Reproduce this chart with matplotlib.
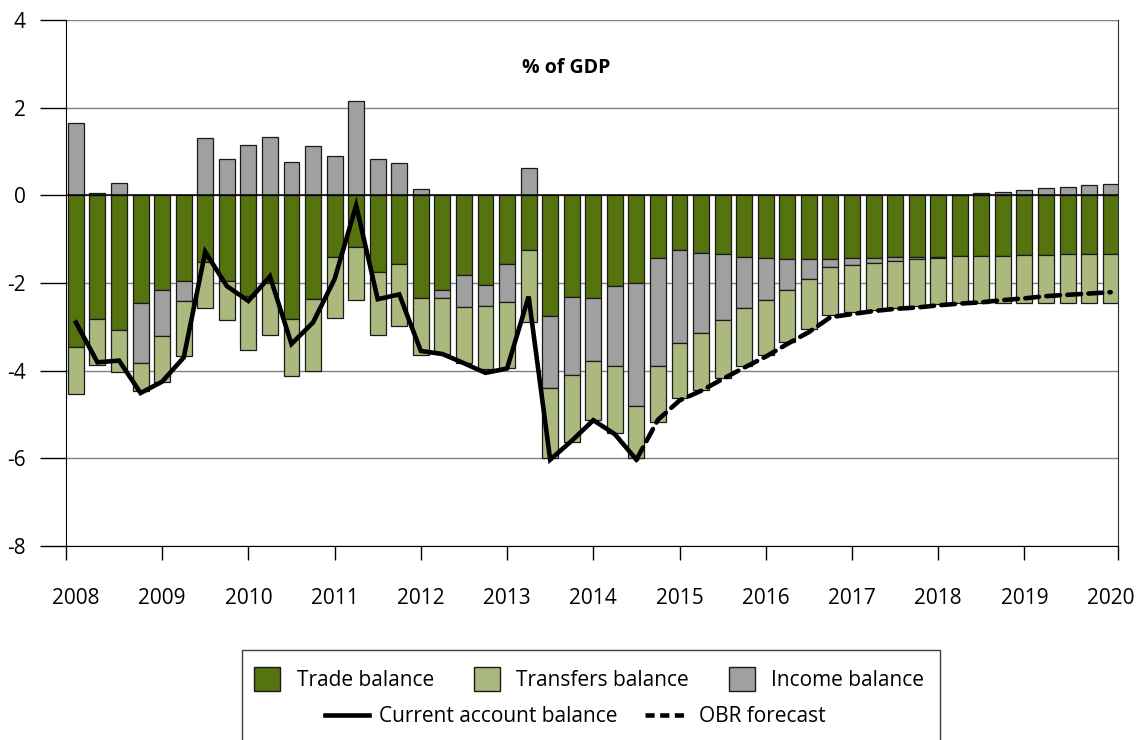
import numpy as np
import matplotlib
matplotlib.use('Agg')
import matplotlib.pyplot as plt
from matplotlib.patches import Patch, Rectangle
from matplotlib.lines import Line2D

plt.rcParams['font.family'] = ['Open Sans', 'DejaVu Sans']
plt.rcParams['axes.unicode_minus'] = False

# quarterly data, 2008Q1 .. 2020Q1 (% of GDP)
quarters = [f'{y}Q{q}' for y in range(2008, 2021) for q in range(1, 5)][:49]
year_labels = [str(y) for y in range(2008, 2021)]

trade = [-3.45, -2.82, -3.07, -2.46, -2.16, -1.95, -1.53, -1.96, -2.29, -2.00,
         -2.82, -2.37, -1.41, -1.19, -1.75, -1.56, -2.35, -2.16, -1.81, -2.04,
         -1.56, -1.25, -2.76, -2.31, -2.35, -2.07, -2.00, -1.42, -1.25, -1.32,
         -1.34, -1.40, -1.44, -1.46, -1.46, -1.46, -1.43, -1.43, -1.40, -1.40,
         -1.40, -1.38, -1.38, -1.38, -1.36, -1.35, -1.34, -1.34, -1.34]
income = [1.64, 0.05, 0.29, -1.37, -1.04, -0.45, 1.30, 0.84, 1.15, 1.34,
          0.77, 1.12, 0.90, 2.16, 0.84, 0.73, 0.14, -0.19, -0.73, -0.48,
          -0.87, 0.62, -1.64, -1.78, -1.44, -1.82, -2.81, -2.47, -2.13, -1.82,
          -1.50, -1.17, -0.94, -0.70, -0.45, -0.18, -0.16, -0.11, -0.10, -0.06,
          -0.02, 0.01, 0.06, 0.08, 0.13, 0.17, 0.20, 0.23, 0.26]
transfers = [-1.08, -1.04, -0.95, -0.64, -1.05, -1.26, -1.04, -0.89, -1.23, -1.19,
             -1.30, -1.63, -1.38, -1.19, -1.43, -1.42, -1.29, -1.27, -1.29, -1.44,
             -1.50, -1.65, -1.60, -1.54, -1.33, -1.54, -1.19, -1.27, -1.25, -1.30,
             -1.32, -1.32, -1.26, -1.18, -1.14, -1.09, -1.07, -1.07, -1.07, -1.06,
             -1.07, -1.07, -1.08, -1.08, -1.10, -1.11, -1.11, -1.11, -1.12]

# current account balance: outturn to 2014Q3, then OBR forecast
cab_actual = [-2.90, -3.81, -3.77, -4.51, -4.25, -3.70, -1.29, -2.07, -2.41, -1.85,
              -3.39, -2.90, -1.91, -0.23, -2.37, -2.26, -3.55, -3.62, -3.83, -4.05,
              -3.95, -2.31, -6.03, -5.60, -5.13, -5.45, -6.03]
obr_forecast = [-6.03, -5.12, -4.68, -4.46, -4.19, -3.93, -3.68, -3.39, -3.12, -2.78,
                -2.71, -2.64, -2.59, -2.56, -2.51, -2.47, -2.44, -2.39, -2.35, -2.30,
                -2.27, -2.24, -2.21]

c_trade = '#55730f'
c_transfers = '#abb87e'
c_income = '#a0a0a0'
edge = '#1a1a1a'

x = np.arange(len(quarters))
trade_a = np.array(trade)
income_a = np.array(income)
transfers_a = np.array(transfers)

# stack negatives downward in the order trade, income, transfers
income_bottom = np.where(income_a < 0, trade_a, 0)
transfers_bottom = trade_a + np.minimum(income_a, 0)

fig = plt.figure(figsize=(11.42, 7.40), dpi=100)
ax = fig.add_axes([66 / 1142, 1 - 546 / 740, (1118 - 66) / 1142, (546 - 20) / 740])

w = 0.74
ax.bar(x, trade_a, w, color=c_trade, edgecolor=edge, linewidth=0.9, zorder=2)
ax.bar(x, income_a, w, bottom=income_bottom, color=c_income, edgecolor=edge, linewidth=0.9, zorder=2)
ax.bar(x, transfers_a, w, bottom=transfers_bottom, color=c_transfers, edgecolor=edge, linewidth=0.9, zorder=2)

ax.plot(x[:len(cab_actual)], cab_actual, color='black', lw=3.3, zorder=4,
        solid_joinstyle='miter')
ax.plot(x[len(x) - len(obr_forecast):], obr_forecast, color='black', lw=3.3, zorder=4,
        dashes=(3.0, 1.6), dash_capstyle='round')

ax.set_ylim(-8, 4)
ax.set_xlim(-0.46, 48.34)
ax.set_yticks([-8, -6, -4, -2, 0, 2, 4])
ax.set_yticklabels(['-8', '-6', '-4', '-2', '0', '2', '4'])
ax.grid(axis='y', color='#808080', lw=1, zorder=0)
ax.axhline(0, color='black', lw=1.1, zorder=3)

# tick marks between years, labels under the first quarter
ax.xaxis.remove_overlapping_locs = False
ax.set_xticks([-0.46] + list(range(4, 48, 4)) + [48.34])
ax.set_xticklabels([])
ax.set_xticks(list(range(0, 49, 4)), minor=True)
ax.set_xticklabels(year_labels, minor=True)
ax.tick_params(axis='x', which='major', length=10, width=1, direction='out')
ax.tick_params(axis='x', which='minor', length=0, pad=30, labelsize=15)
ax.tick_params(axis='y', length=19, width=1, direction='out', pad=10, labelsize=15)

ax.spines['top'].set_visible(False)
ax.spines['left'].set_color('black')
ax.spines['bottom'].set_color('black')
ax.spines['right'].set_color('#303030')

ax.text(0.475, 0.909, '% of GDP', transform=ax.transAxes, ha='center', va='center',
        fontsize=14, fontweight='bold')

# legend: frame plus two rows
fig.add_artist(Rectangle((242 / 1142, -0.05), (940 - 242) / 1142, 0.05 + 1 - 650 / 740,
                         transform=fig.transFigure, fill=False, edgecolor='#404040', lw=1))
patches = [Patch(facecolor=c_trade, edgecolor=edge, label='Trade balance'),
           Patch(facecolor=c_transfers, edgecolor=edge, label='Transfers balance'),
           Patch(facecolor=c_income, edgecolor=edge, label='Income balance')]
leg1 = fig.legend(handles=patches, ncol=3, loc='center', bbox_to_anchor=(0.516, 1 - 679 / 740),
                  frameon=False, fontsize=15, handlelength=1.25, handleheight=1.4,
                  handletextpad=0.8, columnspacing=1.9)
lines = [Line2D([], [], color='black', lw=3.3, label='Current account balance'),
         Line2D([], [], color='black', lw=3.3, dashes=(2.0, 1.2), label='OBR forecast')]
leg2 = fig.legend(handles=lines, ncol=2, loc='center', bbox_to_anchor=(0.504, 1 - 717 / 740),
                  frameon=False, fontsize=15, handlelength=2.1, handletextpad=0.5,
                  columnspacing=1.3)

fig.savefig('out.png', dpi=100)
